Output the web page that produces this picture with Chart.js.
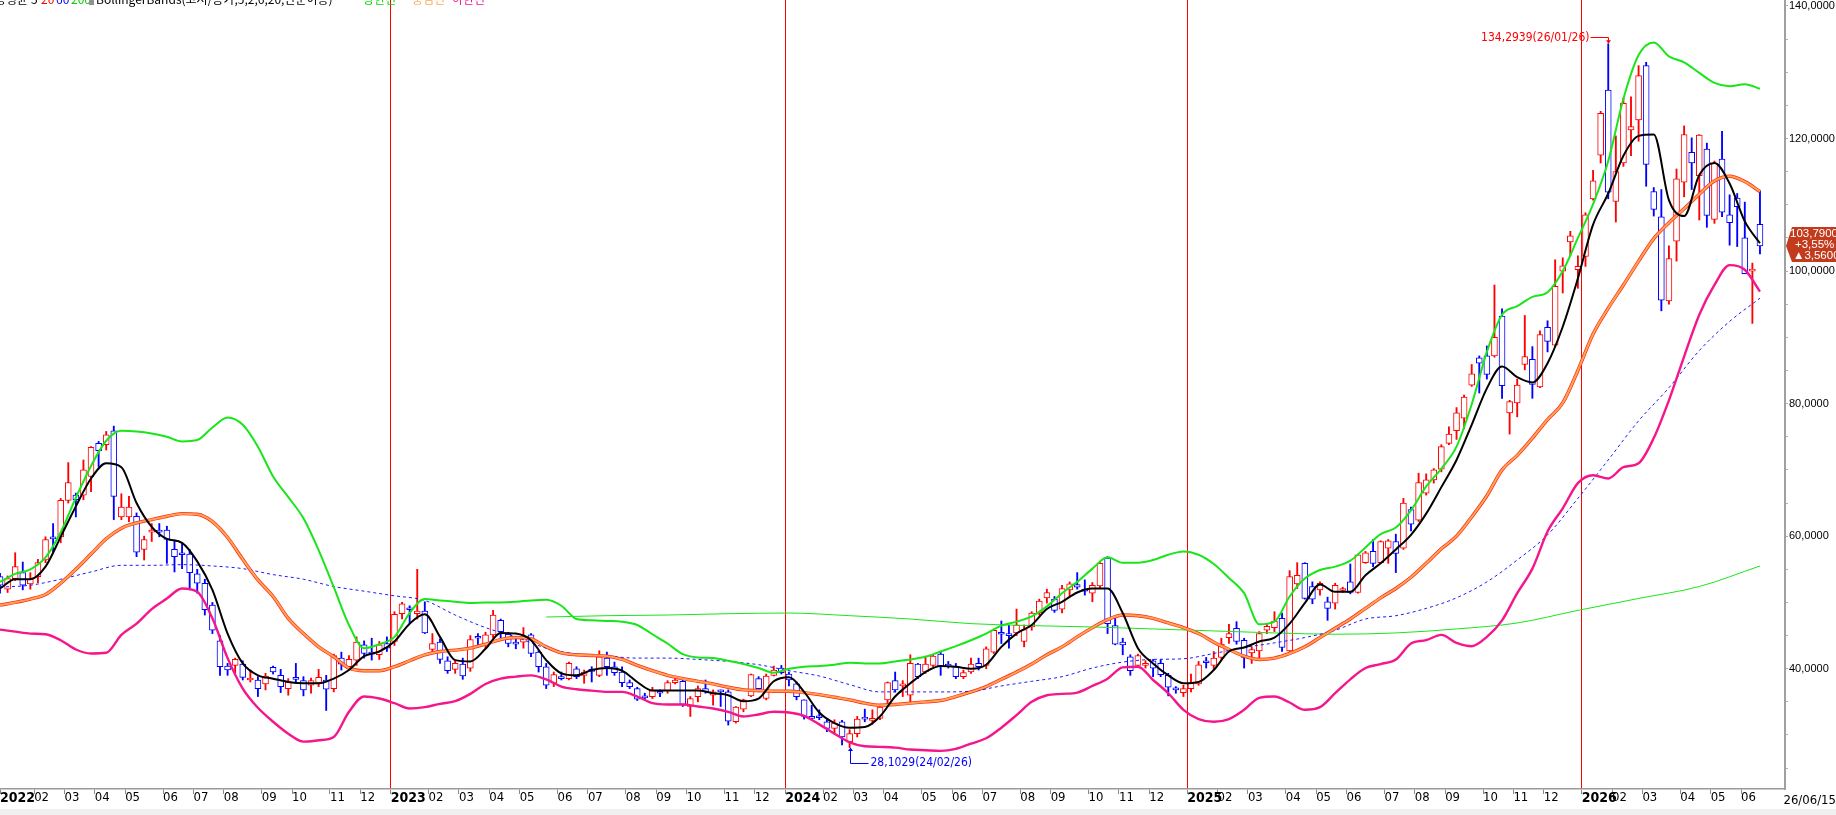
<!DOCTYPE html>
<html><head><meta charset="utf-8">
<script src="https://cdn.jsdelivr.net/npm/chart.js@4.4.1/dist/chart.umd.min.js"></script>
<style>html,body{margin:0;padding:0;background:#fff;overflow:hidden}canvas{display:block}</style>
</head><body>
<canvas id="c" width="1836" height="815"></canvas>
<script>
// ---- weekly OHLC (first week = 2022-01-03) ----
const opens = [
53.9,52.0,53.6,54.5,52.8,53.9,56.4,59.8,59.9,65.4,
66.2,66.2,69.0,74.0,73.8,75.9,62.9,62.9,63.0,58.0,
60.6,60.9,60.9,58.0,57.4,57.3,54.3,52.9,49.6,44.2,
40.4,40.5,40.7,38.3,38.3,37.7,40.2,39.0,37.0,38.5,
38.2,37.5,37.8,38.3,37.0,41.6,40.3,41.3,43.6,42.4,
42.1,43.8,44.1,48.3,49.1,48.3,48.7,42.9,44.0,41.2,
39.9,40.7,40.1,44.9,43.6,45.1,47.3,45.2,43.8,44.0,
45.1,42.5,40.3,37.8,38.7,38.5,40.0,39.0,39.8,39.0,
41.6,40.3,39.5,37.9,37.0,35.7,35.8,36.4,36.7,37.9,
38.1,34.3,35.8,37.0,36.0,36.7,36.5,32.0,33.9,35.9,
38.5,35.5,39.0,40.1,39.2,37.7,35.3,32.6,32.8,32.0,
31.0,32.0,29.0,30.2,32.5,32.2,32.5,35.3,38.2,37.4,
36.0,40.7,39.5,40.5,42.2,40.7,40.3,38.8,39.5,40.8,
40.5,42.5,45.4,45.2,45.4,44.1,46.3,48.4,50.7,50.5,
49.0,51.9,52.7,51.8,51.4,52.5,56.7,46.5,44.0,41.8,
40.5,40.5,41.2,40.8,39.0,36.9,36.4,37.0,37.7,41.0,
40.5,41.7,44.7,46.1,44.3,42.4,42.7,45.8,46.2,47.6,
42.7,52.8,55.9,52.4,51.9,50.1,49.9,51.8,53.1,51.5,
56.0,57.7,56.0,58.2,59.2,58.2,64.0,62.4,66.5,68.5,
70.1,74.0,75.9,77.8,82.8,86.9,87.2,87.2,93.2,78.6,
80.1,85.9,86.7,82.5,91.5,88.8,100.0,104.4,100.2,102.2,
110.9,117.5,127.3,110.5,116.3,121.3,122.8,131.0,112.0,108.2,
95.5,104.5,113.4,117.9,114.4,118.4,107.8,116.9,108.5,111.0,
105.0,100.0,107.05];
const highs = [
54.4,54.0,57.5,56.1,54.5,56.5,59.9,61.9,65.7,71.1,
66.5,71.5,73.5,74.3,75.8,76.6,66.4,66.0,63.5,60.0,
61.9,61.9,61.5,59.4,58.9,58.0,55.0,53.5,50.0,45.0,
40.8,41.6,41.2,39.8,38.8,39.3,40.4,39.9,38.5,40.8,
38.8,38.6,39.9,39.0,42.2,42.5,42.0,44.8,44.2,44.6,
44.1,44.8,48.6,50.0,49.5,55.0,50.1,45.3,44.5,41.8,
41.2,41.6,45.0,45.3,45.5,48.8,47.5,45.5,44.8,46.2,
45.3,42.8,40.8,39.5,39.5,41.0,40.3,39.8,40.3,42.7,
42.5,41.0,40.3,38.3,37.2,36.3,37.2,36.8,38.2,38.8,
38.3,35.8,37.4,38.3,36.8,36.8,36.8,34.3,35.4,39.2,
38.8,39.2,40.4,40.5,39.5,38.0,35.3,34.5,33.8,32.3,
32.3,32.2,30.8,32.8,33.9,33.8,34.5,38.0,39.5,38.2,
42.1,40.8,41.9,42.1,42.6,41.1,40.8,39.8,41.6,41.6,
43.3,45.9,47.2,46.6,49.0,46.6,48.6,50.5,52.0,50.9,
52.6,53.1,54.5,53.4,53.0,56.0,56.9,47.6,44.6,42.1,
42.2,41.2,41.4,41.4,39.3,37.3,37.5,39.2,41.1,41.7,
42.6,44.6,46.7,47.1,44.6,43.3,45.6,46.8,48.6,48.4,
54.8,56.0,56.0,53.1,53.1,50.8,52.9,52.3,55.8,57.3,
57.7,59.5,59.3,59.5,60.3,65.7,64.4,69.5,69.4,70.2,
73.8,76.5,79.4,81.3,85.9,87.2,88.7,97.9,94.3,80.5,
83.7,93.3,88.6,91.0,92.5,101.7,102.0,106.0,102.3,108.8,
115.2,124.1,134.2939,120.4,126.1,126.3,131.0,131.5,112.6,112.3,
103.8,115.4,121.9,120.1,120.6,119.3,116.6,121.1,111.5,111.7,
110.4,101.2,112.1];
const lows = [
51.4,51.5,53.3,51.9,52.0,53.0,56.0,57.6,59.0,65.0,
62.9,65.5,66.7,70.5,73.0,62.5,62.5,62.2,56.9,56.4,
59.2,59.9,55.9,54.6,55.1,51.9,51.4,48.1,45.3,39.0,
39.0,39.3,38.3,38.0,35.8,36.8,39.2,36.4,36.0,38.0,
35.9,36.3,37.3,33.7,36.5,39.8,39.9,40.5,41.6,41.3,
41.4,42.6,43.5,47.5,46.8,47.5,45.3,42.5,40.8,39.3,
39.3,38.4,39.6,43.3,43.0,44.6,44.6,43.3,43.0,43.1,
41.8,39.5,37.0,37.3,38.3,38.3,38.5,37.8,38.0,38.8,
39.0,39.0,37.3,37.0,35.2,35.3,35.5,35.8,36.3,37.7,
34.3,32.8,35.0,36.3,34.5,34.3,31.5,31.8,33.5,35.8,
36.5,35.3,38.9,39.2,37.4,35.3,32.4,32.4,32.3,30.5,
30.3,28.5,28.1029,29.7,32.0,31.6,32.3,34.5,36.5,35.8,
34.9,38.5,39.3,40.3,39.0,40.1,38.5,38.5,39.3,39.8,
40.0,42.3,43.8,43.1,45.0,43.3,45.8,48.1,49.9,48.5,
48.4,50.9,52.0,51.1,50.1,52.1,45.3,43.6,42.1,39.0,
40.2,40.1,38.8,38.8,35.9,36.3,35.8,36.5,37.5,40.1,
39.8,41.4,43.8,43.7,40.1,40.8,41.3,45.3,45.6,42.6,
42.6,52.1,50.5,49.8,51.1,47.3,49.0,51.5,51.3,51.4,
55.9,55.4,55.9,55.9,54.5,58.0,60.8,62.2,66.2,68.0,
69.7,73.8,74.6,76.2,82.6,81.6,83.7,87.0,80.8,75.4,
78.0,85.1,80.8,82.4,87.8,88.6,96.7,102.3,97.4,100.7,
110.7,116.3,110.9,107.4,115.8,117.4,119.6,112.8,108.3,94.0,
95.0,101.5,111.2,112.3,107.7,106.6,107.2,108.2,103.9,103.7,
99.6,92.1,102.6];
const closes = [
52.6,53.6,55.4,52.6,53.5,56.0,59.5,59.6,65.4,68.1,
65.5,70.0,73.4,72.9,75.3,66.0,64.4,64.4,57.6,59.5,
60.9,60.6,59.5,56.9,57.2,54.5,52.9,48.9,45.8,40.3,
39.8,41.4,38.7,38.4,37.0,38.9,39.5,37.3,38.0,38.4,
36.8,38.2,38.7,36.9,42.0,40.7,41.4,44.0,42.3,42.2,
43.6,43.1,48.2,49.8,48.9,48.7,45.4,43.8,41.4,39.7,
40.8,38.9,44.4,44.6,45.1,48.1,45.6,43.8,43.7,44.8,
42.3,40.3,37.5,39.1,38.5,40.8,38.8,39.5,39.6,41.8,
40.3,39.4,37.9,37.3,35.4,35.6,36.7,36.3,37.9,38.3,
34.6,35.5,37.0,36.5,36.5,36.5,32.1,34.2,35.3,39.1,
37.0,38.9,39.8,39.4,38.3,35.8,32.8,32.5,32.6,31.0,
31.8,29.7,30.2,32.4,32.4,32.3,34.2,37.9,36.8,37.6,
40.8,38.8,40.7,41.9,40.3,40.3,38.8,39.4,40.7,40.3,
43.0,45.8,45.2,45.0,46.6,45.9,48.4,50.2,51.5,48.8,
52.1,52.8,52.3,51.7,52.6,55.9,46.8,43.7,43.6,39.7,
42.0,40.8,40.1,39.1,37.2,36.8,37.0,37.8,40.6,40.9,
41.6,43.7,45.3,44.1,41.7,42.9,45.3,46.4,47.2,43.2,
53.9,54.1,50.6,50.5,52.9,49.1,52.6,52.1,51.5,57.2,
57.5,55.9,59.2,59.3,57.4,65.0,61.8,68.1,68.5,70.0,
73.5,75.4,78.6,81.0,84.5,86.1,84.4,90.0,82.7,80.3,
82.8,87.1,82.9,90.4,89.4,97.7,100.8,105.3,100.7,108.5,
113.6,123.8,111.9,115.0,125.3,121.8,129.5,116.1,109.3,95.6,
101.9,113.9,120.6,116.3,120.5,108.4,116.3,108.9,107.3,109.7,
99.6,100.23,103.79];

// ---- indicator lines (one value every LINE_STEP weeks) ----
const LINE_STEP = 2;
const ma5 = [
52.1,53.5,53.5,55.4,59.9,64.5,68.7,71.0,70.4,65.0,
61.4,59.6,59.0,56.2,51.9,45.3,40.8,39.0,38.5,38.0,
37.8,37.8,38.5,39.8,41.9,42.6,44.1,46.8,48.2,44.8,
41.3,41.1,43.0,45.4,45.3,44.3,41.3,39.3,39.0,39.8,
40.1,39.7,38.0,36.7,36.7,36.7,36.7,36.3,36.0,35.1,
35.5,38.1,38.7,36.5,33.4,31.8,31.1,31.2,32.8,35.8,
37.8,39.5,40.4,40.3,40.0,40.6,43.3,45.3,46.6,49.0,
50.1,51.5,52.1,52.1,48.4,43.1,40.8,39.0,37.8,38.0,
39.8,42.6,43.2,44.1,44.7,46.8,49.9,52.7,51.6,51.6,
54.1,55.9,58.0,60.2,63.4,67.4,71.5,76.8,82.3,85.6,
84.0,83.2,86.1,91.6,98.9,107.0,111.7,117.4,120.4,120.6,
110.7,108.3,114.5,116.3,113.2,107.5,104.2];
const bbUpper = [
53.1,54.3,55.0,56.8,60.6,65.8,70.6,74.4,75.9,75.8,
75.5,75.0,74.3,74.5,76.4,77.9,76.8,73.5,69.0,65.9,
62.7,57.9,52.3,46.6,43.1,43.7,44.8,48.4,50.5,50.3,
50.1,49.9,50.0,50.0,50.1,50.3,50.4,49.5,47.5,47.3,
47.2,47.1,46.6,45.2,43.8,42.2,41.7,41.6,41.2,40.7,
40.1,39.4,40.0,40.3,40.4,40.6,40.9,40.8,40.8,41.1,
41.4,41.8,42.6,43.4,44.3,45.3,46.5,47.1,47.9,49.4,
51.4,53.1,55.1,56.8,56.0,56.0,56.4,57.2,57.7,57.2,
55.8,53.7,51.4,46.7,47.1,50.9,53.6,54.9,55.4,56.3,
58.3,60.3,61.3,63.9,67.5,70.2,73.5,79.9,87.8,93.4,
94.7,96.1,96.8,100.0,105.0,110.1,116.6,126.0,132.6,134.5,
132.4,131.5,129.9,128.4,127.9,128.2,127.5];
const bbMiddle = [
49.6,50.0,50.5,51.2,52.9,55.0,57.3,59.6,61.2,62.0,
62.5,63.0,63.4,63.3,62.2,59.8,56.5,53.4,50.9,47.6,
45.3,43.3,41.8,40.1,39.7,39.7,40.3,41.2,42.1,42.6,
42.8,43.1,43.7,44.4,44.7,44.5,43.3,42.4,42.1,42.0,
41.9,41.4,40.5,39.7,39.0,38.5,38.1,37.7,37.2,36.8,
36.7,36.6,36.6,36.4,36.1,35.7,35.3,34.8,34.5,34.6,
34.8,35.0,35.2,35.8,36.5,37.3,38.4,39.5,40.7,42.1,
43.3,44.8,46.2,47.4,48.1,48.0,47.6,46.9,46.2,45.3,
44.0,42.9,41.9,41.4,41.6,42.3,43.3,44.7,46.1,47.5,
49.1,50.7,52.1,53.8,55.9,58.1,60.0,62.9,66.1,70.0,
72.2,74.8,77.6,80.1,85.0,90.5,94.4,97.9,101.5,104.9,
107.3,109.4,111.6,113.6,114.3,113.5,112.0];
const bbLower = [
45.9,45.6,45.3,45.2,44.3,42.9,42.3,42.4,45.1,46.8,
49.0,50.6,52.1,51.6,47.6,41.6,37.0,34.1,32.0,30.2,
29.0,29.2,29.7,33.5,35.8,35.5,34.8,34.0,34.2,34.7,
35.1,36.2,37.7,38.5,38.8,39.0,38.4,37.3,36.9,36.7,
36.5,36.5,35.8,34.8,34.6,34.6,34.3,34.0,33.5,32.8,
33.1,33.5,33.4,32.9,31.6,30.2,28.9,28.3,28.2,28.1,
27.8,27.7,27.6,27.9,28.7,29.5,31.1,33.0,35.0,36.0,
36.2,36.4,37.4,38.5,40.2,40.3,38.3,36.3,33.8,32.4,
32.0,32.4,33.8,35.6,35.8,34.9,33.8,34.2,36.3,38.4,
40.1,40.7,41.4,43.8,44.3,45.1,43.9,43.4,44.8,47.3,
51.4,55.1,60.7,64.2,68.0,69.2,68.7,70.4,71.0,74.8,
80.5,87.1,93.4,97.9,100.9,100.2,96.9];
const MA60_STEP = 4;
const ma60 = [
52.3,52.6,53.5,54.6,55.6,55.6,55.7,55.5,55.1,54.2,
53.5,52.4,51.7,51.0,50.3,48.1,46.2,44.8,43.1,42.2,
41.9,41.6,41.6,41.4,41.1,40.6,39.7,38.9,37.6,36.5,
36.5,36.5,36.6,37.4,38.1,38.8,40.1,41.0,41.4,41.5,
42.3,43.2,43.9,44.7,45.8,47.5,48.0,49.1,50.7,53.1,
56.4,60.2,65.7,71.5,77.4,82.4,88.0,92.4,95.9];
const MA200_FIRST = 72, MA200_STEP = 8;
const ma200 = [47.8,48.0,48.1,48.3,48.4,48.0,47.5,46.8,46.5,46.3,46.0,45.7,45.4,45.2,45.4,46.0,46.9,48.8,50.6,52.4,55.5];

// ---- axis labels ----
const monthLabels = [
'2022','02','03','04','05','06','07','08','09','10','11','12',
'2023','02','03','04','05','06','07','08','09','10','11','12',
'2024','02','03','04','05','06','07','08','09','10','11','12',
'2025','02','03','04','05','06','07','08','09','10','11','12',
'2026','02','03','04','05','06'];
const priceLabels = [40,60,80,100,120,140];
const PRICE_MINOR = 5;
const firstWeek = Date.UTC(2022,0,3);

const DAY = 864e5;
const weekDate = i => new Date(firstWeek + i*7*DAY);
const monthTickPos = [0];
for (let i=1;i<closes.length;i++){
  if (weekDate(i).getUTCMonth() !== weekDate(i-1).getUTCMonth()) monthTickPos.push(i-0.5);
}
const fmt4 = v => v.toFixed(4).replace('.',',');
const ymd = d => String(d.getUTCFullYear()%100).padStart(2,'0')+'/'+String(d.getUTCMonth()+1).padStart(2,'0')+'/'+String(d.getUTCDate()).padStart(2,'0');

const UP='#ff0000', DN='#0000ff';
const candleColor = i => closes[i] >= opens[i] ? UP : DN;
const pts = (arr, first, step) => arr.map((v,k)=>({x:first+k*step, y:v}));

const NARROW = "'Liberation Sans Narrow','DejaVu Sans Condensed','Liberation Sans',sans-serif";
const SANS = "'Liberation Sans','DejaVu Sans',sans-serif";
const KR = "'Noto Sans CJK KR','Noto Sans',sans-serif";

const lineDs = (data, color, width, order, extra) => Object.assign({
  type:'line', data, borderColor:color, borderWidth:width, pointRadius:0, fill:false,
  cubicInterpolationMode:'monotone', order
}, extra||{});

const deco = {
  id:'deco',
  afterDraw(chart){
    const {ctx, scales:{x,y}} = chart;
    ctx.save();
    // bottom strip
    ctx.fillStyle='#f0f0f0'; ctx.fillRect(0,809,1836,6);
    // legend (clipped at top)
    ctx.textBaseline='alphabetic';
    ctx.font = "12px "+KR;
    const segs = [['5','#000',31],['20','#ff0000',41],['60','#0000ff',56],['200','#00cc00',71],
      ['BollingerBands(고저/종가,5,2,6,20,단순이동)','#000',96],['상한선','#00dd00',363],['중심선','#ffaa55',412],['하한선','#f5168c',452]];
    ctx.textAlign='right'; ctx.fillStyle='#000'; ctx.fillText('이동평균',28,3.5);
    ctx.textAlign='left';
    segs.forEach(s=>{ctx.fillStyle=s[1]; ctx.fillText(s[0],s[2],3.5);});
    ctx.fillStyle='#909090'; ctx.fillRect(89,0,5,5);
    // high / low annotations
    let hi=0, lo=0;
    highs.forEach((v,i)=>{ if(v>highs[hi]) hi=i; });
    lows.forEach((v,i)=>{ if(v<lows[lo]) lo=i; });
    ctx.font = "12px "+NARROW; ctx.textBaseline='middle';
    const hx = Math.round(x.getPixelForValue(hi))+0.5, hy = y.getPixelForValue(highs[hi]);
    const ty = Math.round(hy-7)+0.5;
    ctx.strokeStyle=UP; ctx.fillStyle=UP; ctx.lineWidth=1;
    ctx.textAlign='right'; ctx.fillText(fmt4(highs[hi])+'('+ymd(weekDate(hi))+')', hx-19, ty);
    ctx.beginPath(); ctx.moveTo(hx-18,ty); ctx.lineTo(hx,ty); ctx.lineTo(hx,hy-1); ctx.stroke();
    ctx.beginPath(); ctx.moveTo(hx-2.5,hy-3.5); ctx.lineTo(hx+2.5,hy-3.5); ctx.lineTo(hx,hy); ctx.closePath(); ctx.fill();
    const lx = Math.round(x.getPixelForValue(lo))+0.5, ly = y.getPixelForValue(lows[lo]);
    const by = Math.round(ly+15)+0.5;
    ctx.strokeStyle=DN; ctx.fillStyle=DN;
    ctx.beginPath(); ctx.moveTo(lx,ly+1); ctx.lineTo(lx,by); ctx.lineTo(lx+18,by); ctx.stroke();
    ctx.beginPath(); ctx.moveTo(lx-2.5,ly+3.5); ctx.lineTo(lx+2.5,ly+3.5); ctx.lineTo(lx,ly); ctx.closePath(); ctx.fill();
    ctx.textAlign='left'; ctx.fillText(fmt4(lows[lo])+'('+ymd(weekDate(lo))+')', lx+20, by-1);
    // last price tag
    const n = closes.length-1, last = closes[n], prev = closes[n-1];
    const chg = last-prev, pct = chg/prev*100;
    const cy = y.getPixelForValue(last), L = chart.chartArea.right;
    ctx.fillStyle='#c23b1c';
    ctx.beginPath(); ctx.moveTo(L+1,cy); ctx.lineTo(L+7,cy-19); ctx.lineTo(1836,cy-19); ctx.lineTo(1836,cy+16); ctx.lineTo(L+7,cy+16); ctx.closePath(); ctx.fill();
    ctx.fillStyle='#fff'; ctx.font="11.5px "+SANS; ctx.textAlign='left'; ctx.textBaseline='middle';
    ctx.fillText(fmt4(last), L+5, cy-12);
    ctx.fillText((chg>=0?'+':'')+pct.toFixed(2).replace('.',',')+'%', L+10, cy-1);
    ctx.fillText((chg>=0?'▲':'▼')+fmt4(Math.abs(chg)), L+8, cy+10);
    // last date at bottom right
    ctx.fillStyle='#000'; ctx.font="13px "+NARROW; ctx.textAlign='right'; ctx.textBaseline='alphabetic';
    ctx.fillText(ymd(weekDate(n)), 1836, 804);
    ctx.restore();
  }
};

new Chart(document.getElementById('c'), {
  type:'bar',
  data:{ datasets:[
    lineDs(pts(ma5,0,LINE_STEP), '#000000', 2, 0),
    lineDs(pts(bbUpper,0,LINE_STEP), '#19e619', 2, 1),
    lineDs(pts(bbMiddle,0,LINE_STEP), '#ffa450', 2, 1),
    lineDs(pts(bbMiddle,0,LINE_STEP), '#ff2a1a', 3.4, 1.5),
    lineDs(pts(bbLower,0,LINE_STEP), '#f5168c', 2.4, 1),
    lineDs(pts(ma60,0,MA60_STEP), '#1a1aff', 1, 1, {borderDash:[3,3]}),
    lineDs(pts(ma200,MA200_FIRST,MA200_STEP), '#19e619', 1, 1),
    { type:'bar', data: opens.map((o,i)=>({x:i, y:[o, closes[i]]})),
      backgroundColor:'#ffffff', borderColor: c=>candleColor(c.dataIndex), borderWidth:1,
      borderSkipped:false, barThickness:6, grouped:false, minBarLength:2, order:5 },
    { type:'bar', data: lows.map((l,i)=>({x:i, y:[l, highs[i]]})),
      backgroundColor: c=>candleColor(c.dataIndex), borderWidth:0,
      barThickness:1.2, grouped:false, minBarLength:1, order:6 }
  ]},
  options:{
    responsive:false, animation:false, devicePixelRatio:1,
    layout:{ padding:0 },
    plugins:{ legend:{display:false}, tooltip:{enabled:false} },
    scales:{
      x:{ type:'linear', min:0, max:235.3, offset:false,
        afterBuildTicks: s => { s.ticks = monthTickPos.map(v=>({value:v})); },
        afterFit: s => { s.height = 26; s.paddingLeft = 0; s.paddingRight = 0; },
        ticks:{ autoSkip:false, maxRotation:0, minRotation:0, align:'start', padding:-4, color:'#000',
          callback:(v,idx)=>monthLabels[idx],
          font: c => (monthLabels[c.index]||'').length===4 ? {family:NARROW,size:14,weight:'bold'} : {family:NARROW,size:13} },
        grid:{ offset:false, drawOnChartArea:true, lineWidth:1, tickLength:5, tickColor:'#8a8a8a',
          color: c => (c.index>0 && (monthLabels[c.index]||'').length===4) ? '#ff0000' : 'rgba(0,0,0,0)' },
        border:{ display:true, color:'#9a9a9a', width:1.5 }
      },
      y:{ type:'linear', position:'right', min:21.85, max:140.9,
        afterBuildTicks: s => {
          const t = [];
          for (let v = Math.ceil(s.min/PRICE_MINOR)*PRICE_MINOR; v <= s.max; v += PRICE_MINOR) t.push({value:v});
          s.ticks = t;
        },
        ticks:{ autoSkip:false, padding:1, color:'#000', font:{family:SANS,size:11},
          callback: v => priceLabels.includes(v) ? fmt4(v) : '' },
        afterFit: s => { s.width = 51; s.paddingTop = 0; s.paddingBottom = 0; },
        grid:{ drawOnChartArea:false, tickLength:3, tickColor:'#b0b0b0' },
        border:{ display:true, color:'#a0a0a0', width:2 }
      }
    }
  },
  plugins:[deco]
});
</script>
</body></html>
